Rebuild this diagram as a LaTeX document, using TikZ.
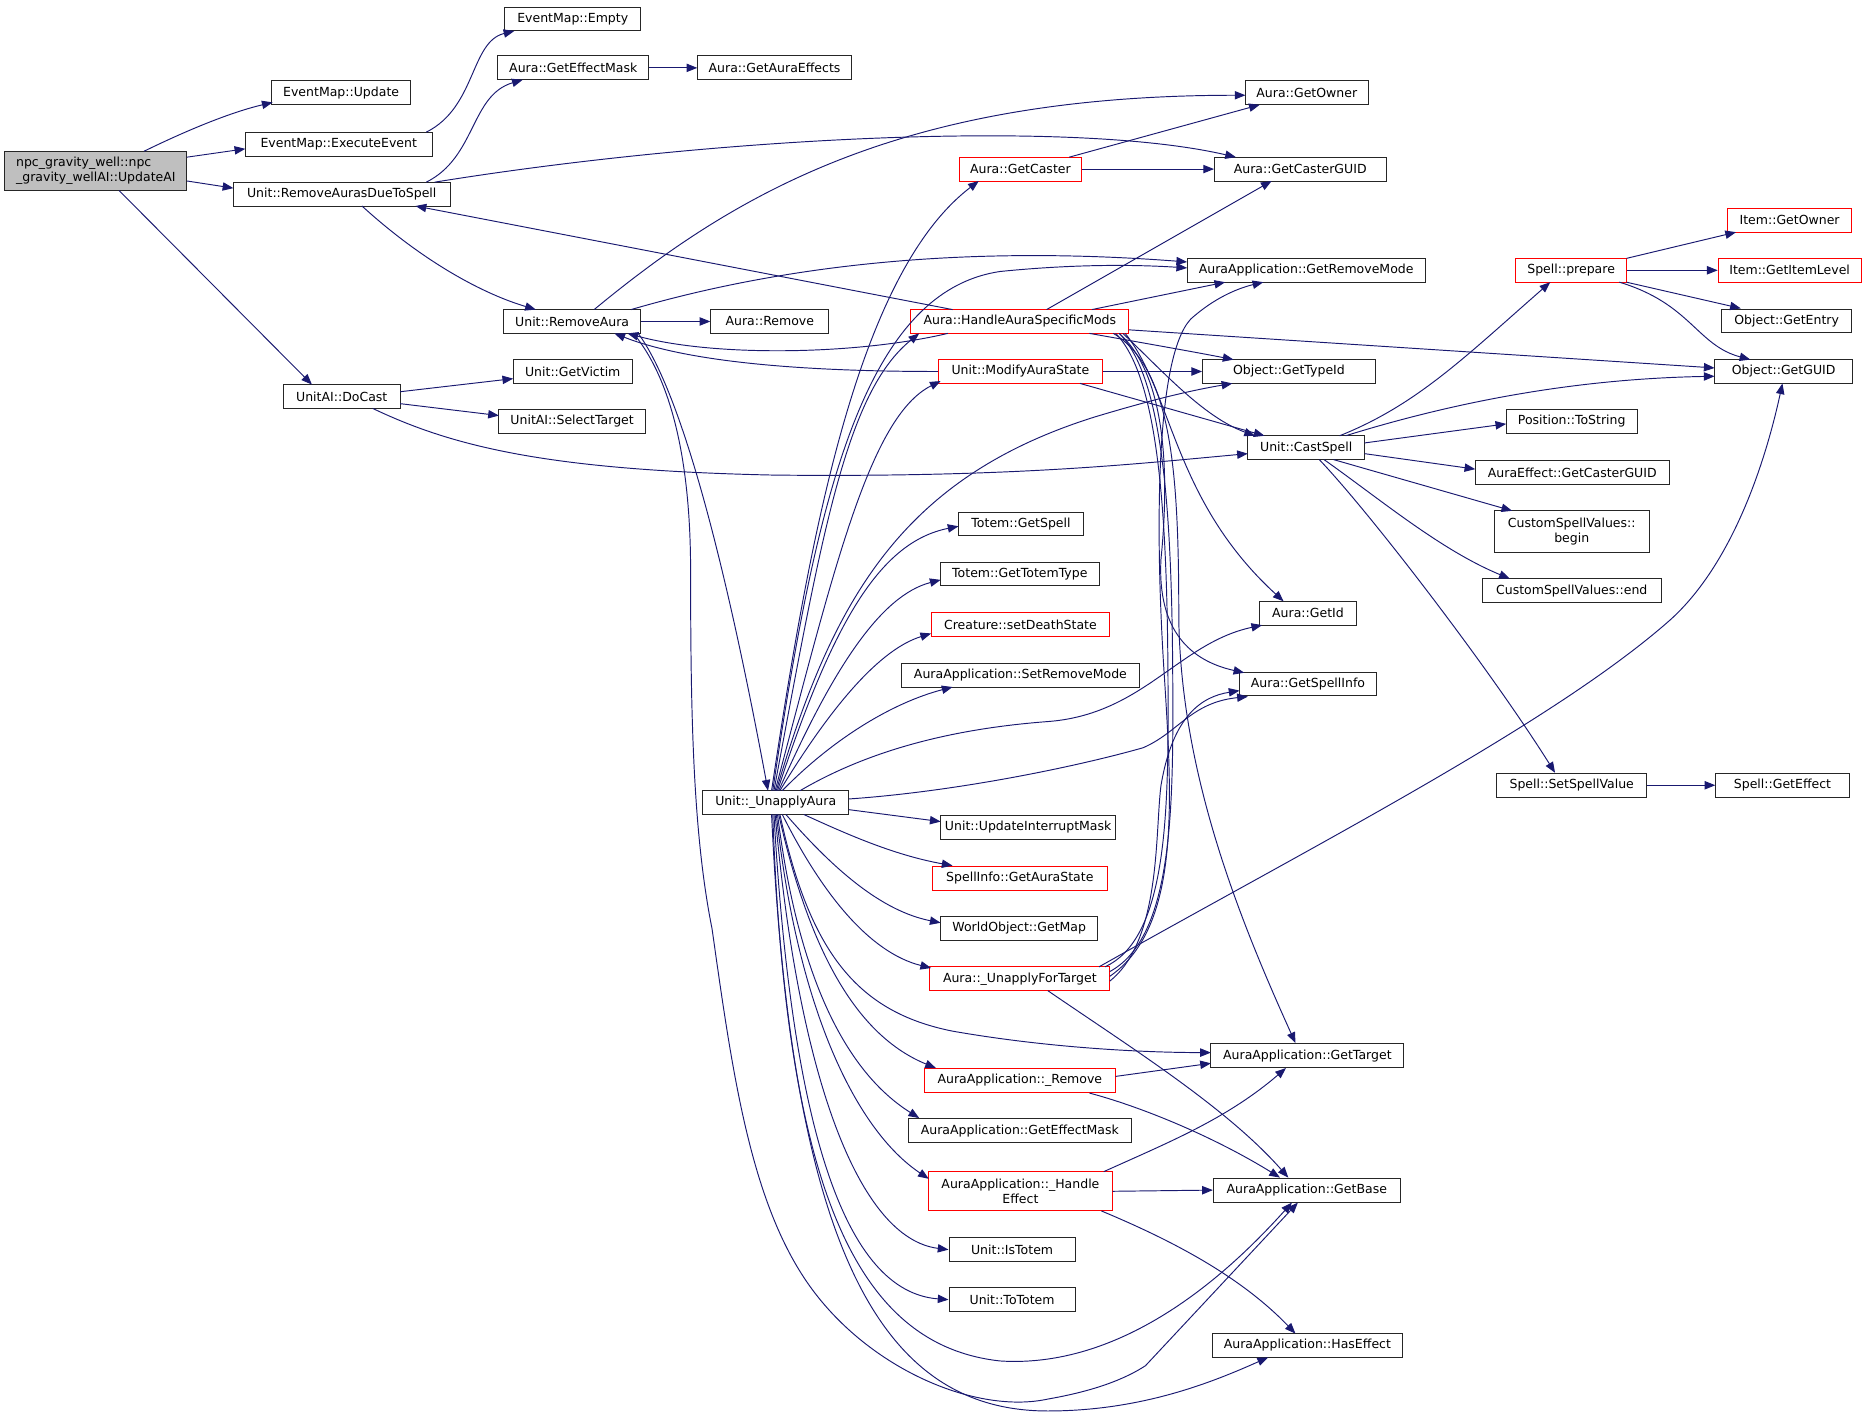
\documentclass[tikz,border=0pt]{standalone}
\usepackage{fontspec}
\setmainfont{DejaVu Sans}
\usetikzlibrary{arrows.meta}
\definecolor{eb}{RGB}{25,25,112}
\definecolor{gfill}{RGB}{191,191,191}
\tikzset{
  nd/.style={draw=black!85, line width=0.8pt, fill=white, inner sep=0pt,
    minimum height=20pt, align=center, font=\fontsize{10.5}{12}\selectfont},
  rn/.style={nd, draw=red},
  gy/.style={nd, fill=gfill},
  ed/.style={draw=eb, line width=0.8pt, -{Triangle[length=9pt,width=7pt]}},
  pl/.style={draw=eb, line width=0.8pt}
}
\begin{document}
\begin{tikzpicture}[x=1pt,y=-1pt]
\useasboundingbox (0,0) rectangle (1568,1193);
% nodes
\node[gy, minimum width=153pt, minimum height=33pt, align=left] (ua) at (80.5,143.5) {npc\_gravity\_well::npc\\\_gravity\_wellAI::UpdateAI};
\node[nd, minimum width=117pt] (eu) at (286.5,78) {EventMap::Update};
\node[nd, minimum width=157pt] (ee) at (284.5,121) {EventMap::ExecuteEvent};
\node[nd, minimum width=114pt] (em) at (481,16) {EventMap::Empty};
\node[nd, minimum width=127pt] (gem) at (481.5,57) {Aura::GetEffectMask};
\node[nd, minimum width=129pt] (gae) at (650.5,57) {Aura::GetAuraEffects};
\node[nd, minimum width=182pt] (rd) at (287,163) {Unit::RemoveAurasDueToSpell};
\node[nd, minimum width=103pt] (go) at (1097.5,78) {Aura::GetOwner};
\node[nd, minimum width=144pt] (gcg) at (1092,142) {Aura::GetCasterGUID};
\node[rn, minimum width=102pt] (gc) at (857,142) {Aura::GetCaster};
\node[nd, minimum width=115pt] (ra) at (480.5,270) {Unit::RemoveAura};
\node[nd, minimum width=99pt] (rm) at (646.5,270) {Aura::Remove};
\node[rn, minimum width=183pt] (ha) at (856.5,270) {Aura::HandleAuraSpecificMods};
\node[nd, minimum width=200pt] (grm) at (1097,227) {AuraApplication::GetRemoveMode};
\node[rn, minimum width=138pt] (ma) at (857,312) {Unit::ModifyAuraState};
\node[nd, minimum width=145pt] (gt) at (1082.5,312) {Object::GetTypeId};
\node[nd, minimum width=98pt] (cs) at (1097,376) {Unit::CastSpell};
\node[nd, minimum width=98pt] (dc) at (287,333) {UnitAI::DoCast};
\node[nd, minimum width=100pt] (gv) at (481,312) {Unit::GetVictim};
\node[nd, minimum width=123pt] (st) at (480.5,354) {UnitAI::SelectTarget};
\node[nd, minimum width=105pt] (tgs) at (857.5,440) {Totem::GetSpell};
\node[nd, minimum width=133pt] (ttt) at (856.5,482) {Totem::GetTotemType};
\node[rn, minimum width=150pt] (sds) at (857,524.5) {Creature::setDeathState};
\node[nd, minimum width=200pt] (srm) at (857,567) {AuraApplication::SetRemoveMode};
\node[nd, minimum width=123pt] (un) at (651.5,674) {Unit::\_UnapplyAura};
\node[nd, minimum width=147pt] (uim) at (863.5,695) {Unit::UpdateInterruptMask};
\node[rn, minimum width=147pt] (gas) at (856.5,737.5) {SpellInfo::GetAuraState};
\node[nd, minimum width=132pt] (gm) at (856,779.5) {WorldObject::GetMap};
\node[rn, minimum width=151pt] (uft) at (856.5,822) {Aura::\_UnapplyForTarget};
\node[rn, minimum width=161pt] (arm) at (856.5,907.5) {AuraApplication::\_Remove};
\node[nd, minimum width=187pt] (aem) at (856.5,949.5) {AuraApplication::GetEffectMask};
\node[rn, minimum width=154pt, minimum height=33pt] (he) at (857,1000.5) {AuraApplication::\_Handle\\Effect};
\node[nd, minimum width=106pt] (it) at (850,1049.5) {Unit::IsTotem};
\node[nd, minimum width=106pt] (tt) at (850,1091.5) {Unit::ToTotem};
\node[nd, minimum width=81pt] (gid) at (1098.5,515) {Aura::GetId};
\node[nd, minimum width=115pt] (gsi) at (1098.5,574.5) {Aura::GetSpellInfo};
\node[nd, minimum width=162pt] (gtg) at (1098,886.5) {AuraApplication::GetTarget};
\node[nd, minimum width=157pt] (gb) at (1097.5,999.5) {AuraApplication::GetBase};
\node[nd, minimum width=160pt] (hef) at (1098,1130) {AuraApplication::HasEffect};
\node[rn, minimum width=93pt] (pr) at (1319.5,227) {Spell::prepare};
\node[rn, minimum width=104pt] (igo) at (1503,185) {Item::GetOwner};
\node[rn, minimum width=120pt] (gil) at (1503,227) {Item::GetItemLevel};
\node[nd, minimum width=109pt] (gen) at (1500.5,269.5) {Object::GetEntry};
\node[nd, minimum width=116pt] (gg) at (1498,312) {Object::GetGUID};
\node[nd, minimum width=110pt] (ts) at (1320,354) {Position::ToString};
\node[nd, minimum width=163pt] (aeg) at (1320.5,397) {AuraEffect::GetCasterGUID};
\node[nd, minimum width=130pt, minimum height=35pt] (csb) at (1320,446.5) {CustomSpellValues::\\begin};
\node[nd, minimum width=150pt] (cse) at (1320,496) {CustomSpellValues::end};
\node[nd, minimum width=126pt] (ssv) at (1320,659.5) {Spell::SetSpellValue};
\node[nd, minimum width=112pt] (ge) at (1497,659.5) {Spell::GetEffect};

% edges: UpdateAI
\draw[ed] ([shift={(40.5,-16.5)}]ua.center) .. controls (160,108) and (195,94) .. ([shift={(-57.5,8)}]eu.center);
\draw[ed] ([shift={(76.5,-11.5)}]ua.center) -- ([shift={(-78.5,4)}]ee.center);
\draw[ed] ([shift={(76.5,8.5)}]ua.center) -- ([shift={(-91,-5)}]rd.center);
\draw[ed] ([shift={(19.5,16.5)}]ua.center) -- ([shift={(-25,-10)}]dc.center);
\draw[ed] ([shift={(73.5,-10)}]ee.center) .. controls (400,90) and (395,35) .. ([shift={(-49,10)}]em.center);
% RemoveAurasDueToSpell
\draw[ed] ([shift={(71,-10)}]rd.center) .. controls (400,132) and (395,80) .. ([shift={(-42.5,10)}]gem.center);
\draw[ed] ([shift={(78,-10)}]rd.center) .. controls (600,115) and (900,100) .. ([shift={(-54,-10)}]gcg.center);
\draw[ed] ([shift={(17,10)}]rd.center) .. controls (350,215) and (400,245) .. ([shift={(-30.5,-10)}]ra.center);
\draw[ed] (gem.east) -- (gae.west);
% RemoveAura
\draw[ed] ([shift={(18.5,-10)}]ra.center) .. controls (620,160) and (760,80) .. ([shift={(-51.5,2)}]go.center);
\draw[ed] ([shift={(49.5,-10)}]ra.center) .. controls (650,225) and (800,205) .. ([shift={(-100,-7)}]grm.center);
\draw[ed] (ra.east) -- (rm.west);
\draw[ed] ([shift={(55.5,10)}]ra.center) .. controls (580,340) and (620,530) .. ([shift={(-6.5,-10)}]un.center);
\draw[ed] ([shift={(51.5,10)}]ra.center) .. controls (565,320) and (580,390) .. (580,480) .. controls (580,600) and (582,700) .. (598,780) .. controls (615,900) and (630,1010) .. (680,1080) .. controls (730,1150) and (820,1188) .. (880,1175) .. controls (920,1168) and (945,1158) .. (962,1147) -- ([shift={(-7.5,10.5)}]gb.center);
% GetCaster
\draw[ed] ([shift={(41,-10)}]gc.center) -- ([shift={(-39.5,10)}]go.center);
\draw[ed] (gc.east) -- (gcg.west);
% HandleAuraSpecificMods
\draw[ed] ([shift={(-56.5,-10)}]ha.center) -- ([shift={(62,10)}]rd.center);
\draw[ed] ([shift={(-60.5,10)}]ha.center) .. controls (720,298) and (600,300) .. ([shift={(46.5,10)}]ra.center);
\draw[ed] ([shift={(22.5,-10)}]ha.center) -- ([shift={(-24,10)}]gcg.center);
\draw[ed] ([shift={(60.5,-10)}]ha.center) -- ([shift={(-68,10)}]grm.center);
\draw[ed] ([shift={(58.5,10)}]ha.center) .. controls (960,288) and (1000,295) .. ([shift={(-46.5,-10)}]gt.center);
\draw[ed] ([shift={(91.5,7)}]ha.center) -- ([shift={(-58,-3)}]gg.center);
\draw[ed] ([shift={(86.5,10)}]ha.center) .. controls (975,310) and (1010,350) .. ([shift={(-43,-10)}]cs.center);
\draw[ed] ([shift={(88.5,10)}]ha.center) .. controls (985,330) and (985,420) .. ([shift={(-20.5,-10)}]gid.center);
\draw[ed] ([shift={(83.5,10)}]ha.center) .. controls (985,320) and (980,420) .. (975,470) .. controls (972,530) and (1000,555) .. ([shift={(-53.5,-9.5)}]gsi.center);
\draw[ed] ([shift={(78.5,10)}]ha.center) .. controls (985,310) and (990,400) .. (990,520) .. controls (992,650) and (1040,770) .. ([shift={(-10,-10.5)}]gtg.center);
% lines between _UnapplyForTarget and HandleAuraSpecificMods
\draw[pl] ([shift={(75.5,-6)}]uft.center) .. controls (980,790) and (985,700) .. (985,600) .. controls (985,450) and (980,320) .. ([shift={(83.5,10)}]ha.center);
\draw[pl] ([shift={(71.5,-10)}]uft.center) .. controls (976,790) and (981,700) .. (981,600) .. controls (981,450) and (976,320) .. ([shift={(80.5,10)}]ha.center);
% ModifyAuraState
\draw[ed] (ma.west) .. controls (680,312) and (580,305) .. ([shift={(35.5,10)}]ra.center);
\draw[ed] (ma.east) -- (gt.west);
\draw[ed] ([shift={(50,10)}]ma.center) -- ([shift={(-35,-10)}]cs.center);
% DoCast
\draw[ed] ([shift={(49,-4)}]dc.center) -- ([shift={(-50,6)}]gv.center);
\draw[ed] ([shift={(49,6)}]dc.center) -- ([shift={(-61.5,-5)}]st.center);
\draw[ed] ([shift={(26,10)}]dc.center) .. controls (380,375) and (460,395) .. (650,399) .. controls (850,401) and (950,390) .. ([shift={(-49,5)}]cs.center);
% CastSpell
\draw[ed] ([shift={(28,-10)}]cs.center) .. controls (1190,340) and (1230,300) .. ([shift={(-17.5,10)}]pr.center);
\draw[ed] ([shift={(33,-10)}]cs.center) .. controls (1230,335) and (1330,318) .. ([shift={(-58,4)}]gg.center);
\draw[ed] ([shift={(49,-4)}]cs.center) -- ([shift={(-55,2)}]ts.center);
\draw[ed] ([shift={(49,5)}]cs.center) -- ([shift={(-81.5,-3)}]aeg.center);
\draw[ed] ([shift={(23,10)}]cs.center) -- ([shift={(-50,-17.5)}]csb.center);
\draw[ed] ([shift={(15,10)}]cs.center) .. controls (1160,420) and (1210,462) .. ([shift={(-52,-10)}]cse.center);
\draw[ed] ([shift={(11,10)}]cs.center) .. controls (1150,430) and (1250,560) .. ([shift={(-14,-10.5)}]ssv.center);
% prepare
\draw[ed] ([shift={(46.5,-10)}]pr.center) -- ([shift={(-45,10)}]igo.center);
\draw[ed] (pr.east) -- (gil.west);
\draw[ed] ([shift={(46.5,10)}]pr.center) -- ([shift={(-38.5,-10.5)}]gen.center);
\draw[ed] ([shift={(40.5,10)}]pr.center) .. controls (1420,255) and (1425,290) .. ([shift={(-28,-10)}]gg.center);
\draw[ed] (ssv.east) -- (ge.west);
% _UnapplyAura upward
\draw[ed] ([shift={(-3.5,-10)}]un.center) .. controls (680,450) and (720,230) .. ([shift={(-35,10)}]gc.center);
\draw[ed] ([shift={(-2.5,-10)}]un.center) .. controls (685,420) and (725,245) .. (840,228) .. controls (900,222) and (950,222) .. ([shift={(-100,-2)}]grm.center);
\draw[ed] ([shift={(-1.5,-10)}]un.center) .. controls (690,450) and (710,330) .. ([shift={(-84.5,10)}]ha.center);
\draw[ed] ([shift={(-0.5,-10)}]un.center) .. controls (700,480) and (730,350) .. ([shift={(-67,8)}]ma.center);
\draw[ed] ([shift={(0.5,-10)}]un.center) .. controls (700,500) and (760,400) .. (920,350) .. controls (970,335) and (1000,328) .. ([shift={(-47.5,10)}]gt.center);
\draw[ed] ([shift={(1.5,-10)}]un.center) .. controls (700,520) and (740,455) .. ([shift={(-52.5,2)}]tgs.center);
\draw[ed] ([shift={(2.5,-10)}]un.center) .. controls (700,560) and (740,500) .. ([shift={(-66.5,5)}]ttt.center);
\draw[ed] ([shift={(3.5,-10)}]un.center) .. controls (700,590) and (740,545) .. ([shift={(-75,7.5)}]sds.center);
\draw[ed] ([shift={(5.5,-10)}]un.center) .. controls (700,620) and (750,590) .. ([shift={(-57,10)}]srm.center);
\draw[ed] ([shift={(20.5,-10)}]un.center) .. controls (730,630) and (800,612) .. (880,606) .. controls (960,600) and (990,540) .. ([shift={(-38.5,10)}]gid.center);
\draw[ed] ([shift={(61.5,-3)}]un.center) .. controls (800,665) and (900,645) .. (960,628) .. controls (990,615) and (1000,590) .. ([shift={(-50.5,10.5)}]gsi.center);
% _UnapplyAura downward
\draw[ed] ([shift={(61.5,6)}]un.center) -- ([shift={(-73.5,-5)}]uim.center);
\draw[ed] ([shift={(23.5,10)}]un.center) .. controls (710,700) and (750,718) .. ([shift={(-56.5,-10.5)}]gas.center);
\draw[ed] ([shift={(8.5,10)}]un.center) .. controls (700,730) and (740,765) .. ([shift={(-66,-4.5)}]gm.center);
\draw[ed] ([shift={(5.5,10)}]un.center) .. controls (690,750) and (730,800) .. ([shift={(-74.5,-9)}]uft.center);
\draw[ed] ([shift={(3.5,10)}]un.center) .. controls (680,800) and (720,850) .. (800,866) .. controls (880,880) and (960,884) .. ([shift={(-81,-2.5)}]gtg.center);
\draw[ed] ([shift={(2.5,10)}]un.center) .. controls (680,800) and (720,870) .. ([shift={(-70.5,-10.5)}]arm.center);
\draw[ed] ([shift={(1.5,10)}]un.center) .. controls (670,820) and (710,900) .. ([shift={(-84.5,-10.5)}]aem.center);
\draw[ed] ([shift={(0.5,10)}]un.center) .. controls (670,850) and (720,950) .. ([shift={(-77,-10.5)}]he.center);
\draw[ed] ([shift={(-0.5,10)}]un.center) .. controls (670,900) and (720,1040) .. (it.west);
\draw[ed] ([shift={(-1.5,10)}]un.center) .. controls (665,950) and (710,1085) .. (tt.west);
\draw[ed] ([shift={(-2.5,10)}]un.center) .. controls (660,1000) and (720,1130) .. (840,1143) .. controls (950,1150) and (1040,1060) .. ([shift={(-12.5,10.5)}]gb.center);
\draw[ed] ([shift={(-3.5,10)}]un.center) .. controls (665,1050) and (740,1185) .. (880,1185) .. controls (960,1185) and (1020,1160) .. ([shift={(-33,10)}]hef.center);
% _UnapplyForTarget
\draw[ed] ([shift={(66.5,-10)}]uft.center) .. controls (1100,712) and (1300,610) .. (1400,523) .. controls (1450,480) and (1480,400) .. ([shift={(-1,10)}]gg.center);
\draw[ed] ([shift={(75.5,-2)}]uft.center) .. controls (990,780) and (985,680) .. (978,570) .. controls (970,450) and (970,300) .. (1000,268) .. controls (1020,250) and (1040,242) .. ([shift={(-36,10)}]grm.center);
\draw[ed] ([shift={(75.5,2)}]uft.center) .. controls (975,790) and (970,700) .. (975,660) .. controls (985,600) and (1010,585) .. ([shift={(-57.5,5.5)}]gsi.center);
\draw[ed] ([shift={(23.5,10)}]uft.center) .. controls (950,880) and (1030,930) .. ([shift={(-15.5,-10.5)}]gb.center);
% _Remove
\draw[ed] ([shift={(80.5,-3.5)}]arm.center) -- ([shift={(-81,6.5)}]gtg.center);
\draw[ed] ([shift={(58.5,10.5)}]arm.center) .. controls (960,930) and (1020,955) .. ([shift={(-22.5,-10.5)}]gb.center);
% _HandleEffect
\draw[ed] ([shift={(70,-16.5)}]he.center) .. controls (980,960) and (1030,940) .. ([shift={(-18,10.5)}]gtg.center);
\draw[ed] (he.east) -- (gb.west);
\draw[ed] ([shift={(68,16.5)}]he.center) .. controls (980,1040) and (1040,1070) .. ([shift={(-10,-10)}]hef.center);
\end{tikzpicture}
\end{document}
